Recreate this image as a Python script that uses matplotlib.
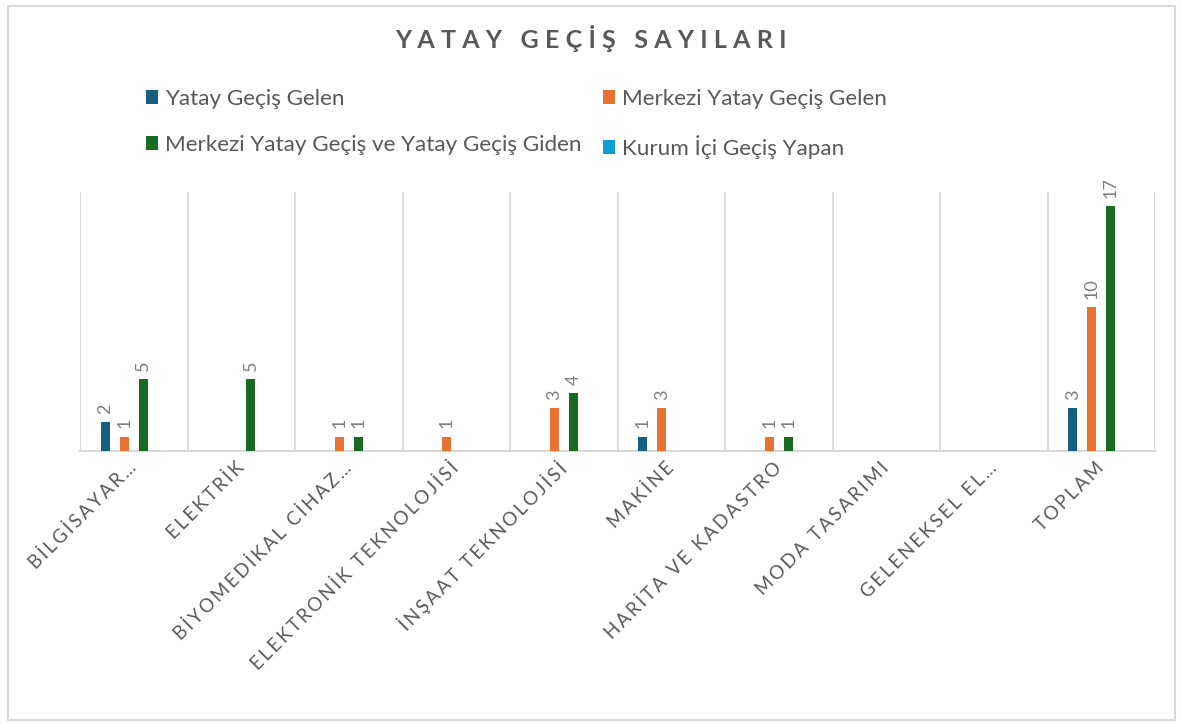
import matplotlib.pyplot as plt
import numpy as np
from matplotlib.patches import Rectangle

plt.rcParams['font.family'] = ['Lato', 'DejaVu Sans']

# Categories (as shown, truncated the way the original axis shows them)
categories = ['BİLGİSAYAR…', 'ELEKTRİK', 'BİYOMEDİKAL CİHAZ…', 'ELEKTRONİK TEKNOLOJİSİ',
              'İNŞAAT TEKNOLOJİSİ', 'MAKİNE', 'HARİTA VE KADASTRO', 'MODA TASARIMI',
              'GELENEKSEL EL…', 'TOPLAM']

# Series values
yatay_gelen = [2, 0, 0, 0, 0, 1, 0, 0, 0, 3]
merkezi_gelen = [1, 0, 1, 1, 3, 3, 1, 0, 0, 10]
merkezi_giden = [5, 5, 1, 0, 4, 0, 1, 0, 0, 17]
kurum_ici = [0, 0, 0, 0, 0, 0, 0, 0, 0, 0]

series_names = ['Yatay Geçiş Gelen', 'Merkezi Yatay Geçiş Gelen',
                'Merkezi Yatay Geçiş ve Yatay Geçiş Giden', 'Kurum İçi Geçiş Yapan']
colors = ['#156082', '#E97132', '#196B24', '#0F9ED5']

text_gray = '#595959'
grid_gray = '#d9d9d9'


def spaced(s, sep='\u2009'):
    # letter tracking like the original
    return sep.join(s)


fig = plt.figure(figsize=(11.82, 7.24), dpi=100)
ax = fig.add_axes([80 / 1182, 1 - 451 / 724, 1075 / 1182, 259 / 724])

x = np.arange(len(categories))
slot = 0.177
width = 0.085
all_series = [yatay_gelen, merkezi_gelen, merkezi_giden, kurum_ici]

bars = []
for i, (vals, name, c) in enumerate(zip(all_series, series_names, colors)):
    b = ax.bar(x + (i - 1.5) * slot, vals, width=width, color=c, label=name, zorder=3)
    bars.append(b)
    labels = [str(v) if v else '' for v in vals]
    ax.bar_label(b, labels=labels, rotation=90, padding=6, fontsize=13,
                 color='#7f7f7f')

ax.set_xlim(-0.5, len(categories) - 0.5)
ax.set_ylim(0, 18)
ax.set_yticks([])

# vertical separators between categories
for b in np.arange(-0.5, len(categories), 1.0):
    ax.axvline(b, color=grid_gray, linewidth=1.3, zorder=1)

for s in ['top', 'right', 'left']:
    ax.spines[s].set_visible(False)
ax.spines['bottom'].set_color(grid_gray)
ax.spines['bottom'].set_linewidth(1.5)

ax.set_xticks(x)
ax.set_xticklabels([spaced(c) for c in categories], rotation=45, ha='right',
                   va='center', rotation_mode='anchor', fontsize=13.5, color=text_gray)
ax.tick_params(axis='x', length=0, pad=10)

# Title
fig.text(0.5, 1 - 38 / 724, spaced('YATAY GEÇİŞ SAYILARI', '\u2009\u2009'), ha='center',
         va='center', fontsize=18, fontweight='bold', color=text_gray)

# Legend, two columns
leg_kw = dict(loc='upper left', frameon=False, borderaxespad=0, borderpad=0,
              handlelength=0.55, handleheight=0.55, handletextpad=0.3,
              labelspacing=1.15, fontsize=16.2, labelcolor=text_gray)
fig.legend(handles=[bars[0], bars[2]], bbox_to_anchor=(146 / 1182, 1 - 89 / 724), **leg_kw)
fig.legend(handles=[bars[1], bars[3]], bbox_to_anchor=(603 / 1182, 1 - 89 / 724), **leg_kw)

# outer chart border
fig.patches.append(Rectangle((8 / 1182, 4 / 724), 1167 / 1182, 714 / 724,
                             transform=fig.transFigure, fill=False,
                             edgecolor=grid_gray, linewidth=1.5))

plt.savefig('out.png', dpi=100)
